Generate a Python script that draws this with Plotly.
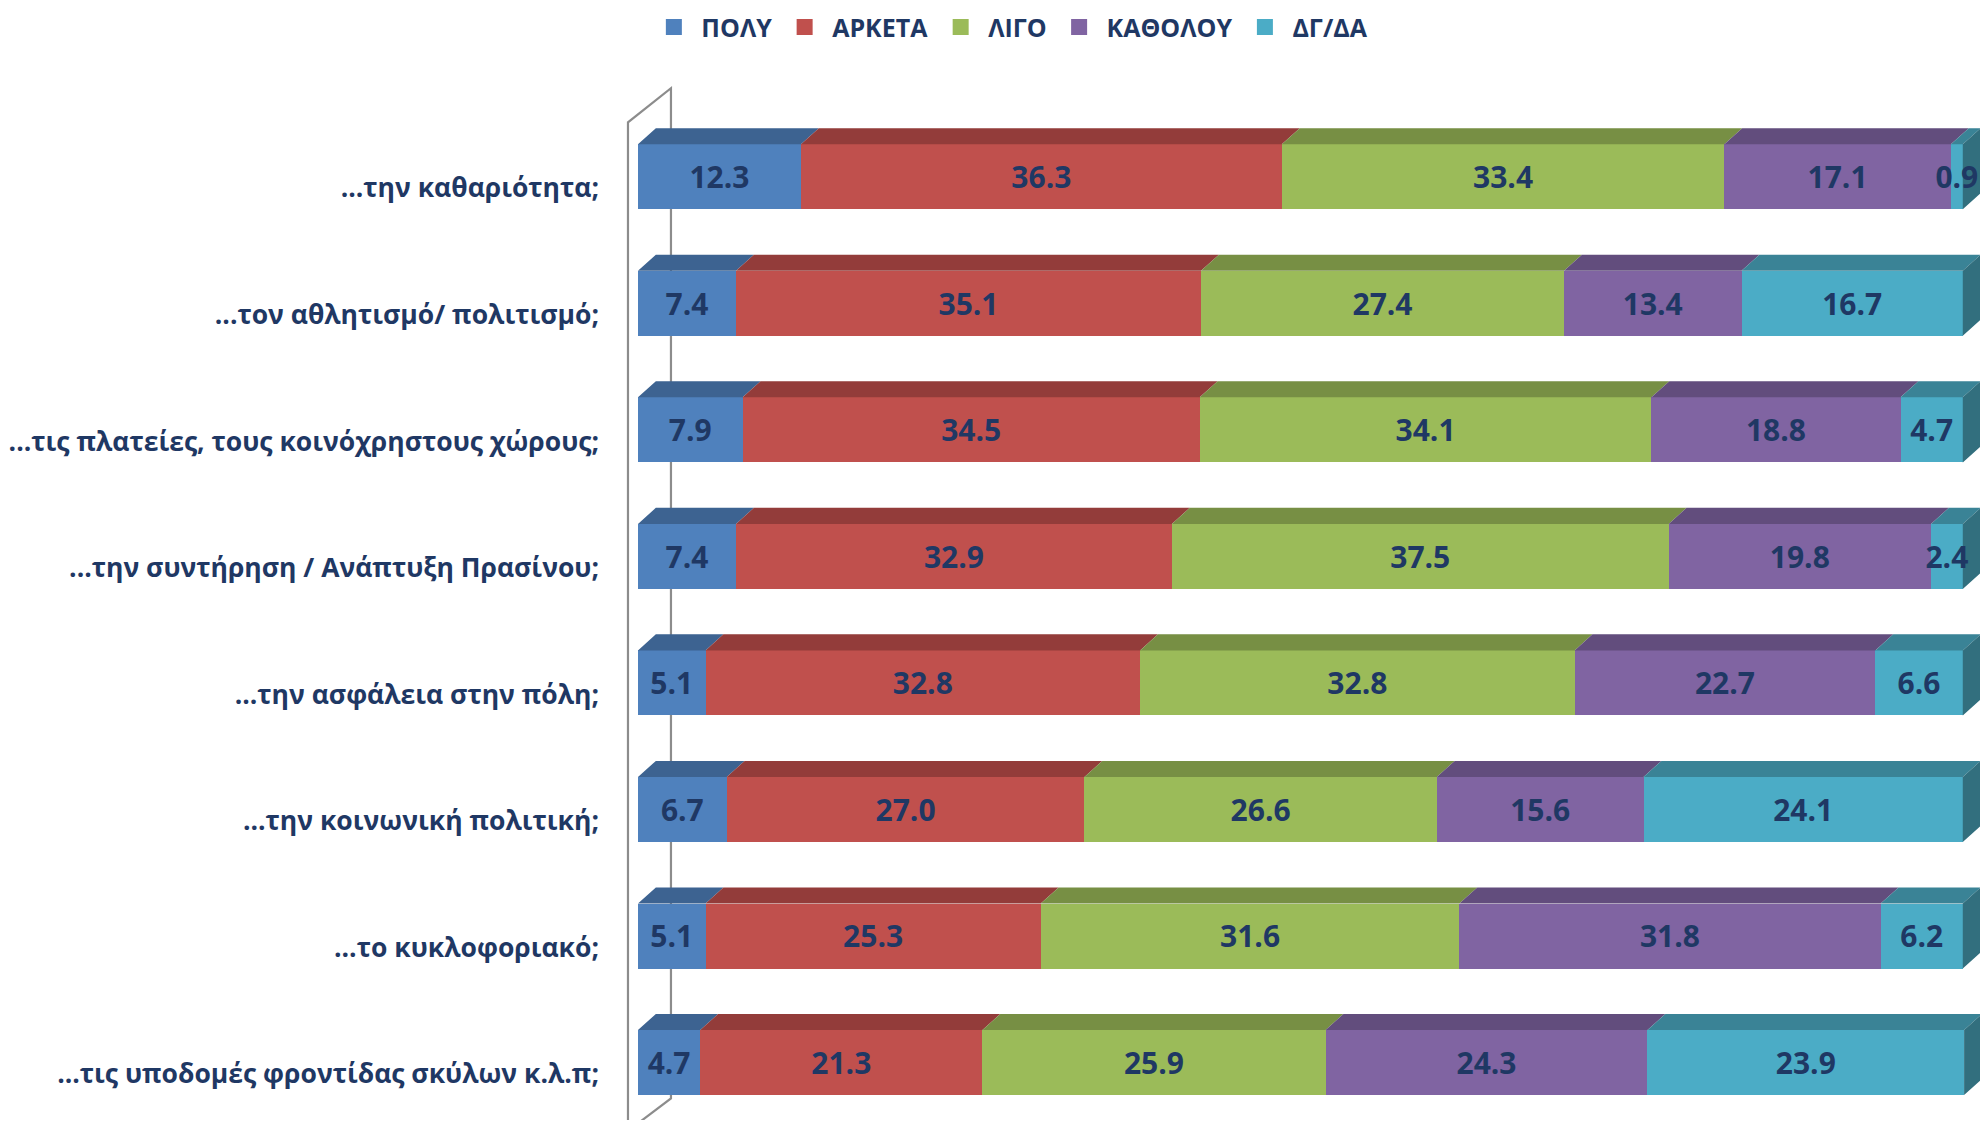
import plotly.graph_objects as go

categories = [
    "...την καθαριότητα;",
    "...τον αθλητισμό/ πολιτισμό;",
    "...τις πλατείες, τους κοινόχρηστους χώρους;",
    "...την συντήρηση / Ανάπτυξη Πρασίνου;",
    "...την ασφάλεια στην πόλη;",
    "...την κοινωνική πολιτική;",
    "...το κυκλοφοριακό;",
    "...τις υποδομές φροντίδας σκύλων κ.λ.π;",
]
series_names = ["ΠΟΛΥ", "ΑΡΚΕΤΑ", "ΛΙΓΟ", "ΚΑΘΟΛΟΥ", "ΔΓ/ΔΑ"]
poly = [12.3, 7.4, 7.9, 7.4, 5.1, 6.7, 5.1, 4.7]
arketa = [36.3, 35.1, 34.5, 32.9, 32.8, 27.0, 25.3, 21.3]
ligo = [33.4, 27.4, 34.1, 37.5, 32.8, 26.6, 31.6, 25.9]
katholou = [17.1, 13.4, 18.8, 19.8, 22.7, 15.6, 31.8, 24.3]
dgda = [0.9, 16.7, 4.7, 2.4, 6.6, 24.1, 6.2, 23.9]
series_values = [poly, arketa, ligo, katholou, dgda]

front_colors = ["#4F81BD", "#C0504D", "#9BBB59", "#8064A2", "#4BACC6"]
top_colors = ["#3D6391", "#933C3A", "#778F44", "#624D7D", "#3A8396"]
side_color = "#326F7E"
navy = "#1F3864"

BAR_W = 0.514      # bar thickness (category units)
DX = 1.35          # 3D depth along x (value units)
DY = 0.127         # 3D depth along y (category units)
TICK_DROP = 0.09   # category labels sit slightly below bar centres
LABEL_DROP = 0.03  # value labels sit slightly below bar centres

ypos = list(range(len(categories)))
fig = go.Figure()

# Wall (3D axis wall) drawn behind everything
wall_front_x, wall_back_x = -0.754, 2.49
wall_top_front, wall_top_back = -0.43, -0.70
wall_bot_back, wall_bot_front = 7.284, 7.54
fig.add_shape(
    type="path", xref="x", yref="y", layer="below",
    path=(f"M {wall_front_x},{wall_bot_front + 0.1} L {wall_front_x},{wall_top_front} "
          f"L {wall_back_x},{wall_top_back} L {wall_back_x},{wall_bot_back} "
          f"L {wall_front_x},{wall_bot_front}"),
    line=dict(color="#8C8C8C", width=2.2),
)

# Front faces
for name, vals, col in zip(series_names, series_values, front_colors):
    fig.add_trace(go.Bar(
        y=ypos, x=vals, name=name, orientation="h", width=BAR_W,
        marker=dict(color=col, line=dict(width=0)),
        hoverinfo="skip", showlegend=False,
    ))

# Legend entries (square markers)
for name, col in zip(series_names, front_colors):
    fig.add_trace(go.Scatter(
        x=[None], y=[None], mode="markers", name=name,
        marker=dict(symbol="square", size=16, color=col),
    ))

# Top faces
cum = [[0.0] * len(categories)]
for vals in series_values:
    cum.append([c + v for c, v in zip(cum[-1], vals)])

for k, (vals, col) in enumerate(zip(series_values, top_colors)):
    xs, ys = [], []
    for i in ypos:
        x0, x1 = cum[k][i], cum[k + 1][i]
        yf = i - BAR_W / 2
        yb = yf - DY
        xs += [x0, x1, x1 + DX, x0 + DX, x0, None]
        ys += [yf, yf, yb, yb, yf, None]
    fig.add_trace(go.Scatter(
        x=xs, y=ys, mode="lines", fill="toself", fillcolor=col,
        line=dict(width=0, color=col), showlegend=False, hoverinfo="skip",
    ))

# Right side faces
xs, ys = [], []
for i in ypos:
    xe = cum[-1][i]
    yf_top = i - BAR_W / 2
    yf_bot = i + BAR_W / 2
    xs += [xe, xe + DX, xe + DX, xe, xe, None]
    ys += [yf_top, yf_top - DY, yf_bot - DY, yf_bot, yf_top, None]
fig.add_trace(go.Scatter(
    x=xs, y=ys, mode="lines", fill="toself", fillcolor=side_color,
    line=dict(width=0, color=side_color), showlegend=False, hoverinfo="skip",
))

# Data labels
lx, ly, lt = [], [], []
for k, vals in enumerate(series_values):
    for i in ypos:
        lx.append(cum[k][i] + vals[i] / 2)
        ly.append(i + LABEL_DROP)
        lt.append(f"{vals[i]:.1f}")
fig.add_trace(go.Scatter(
    x=lx, y=ly, text=lt, mode="text", showlegend=False, hoverinfo="skip",
    textfont=dict(family="Open Sans", size=30, color=navy, weight="bold"),
    cliponaxis=False,
))

fig.update_layout(
    width=1972, height=1112,
    barmode="stack",
    margin=dict(l=592, r=0, t=52, b=0, autoexpand=False),
    paper_bgcolor="white", plot_bgcolor="white",
    showlegend=True,
    legend=dict(
        orientation="h", x=0.297, xanchor="center", y=1.0525, yanchor="top",
        yref="paper", itemwidth=45, bgcolor="rgba(0,0,0,0)",
        font=dict(family="Open Sans", size=25, color=navy, weight="bold"),
        itemclick=False, itemdoubleclick=False, traceorder="normal",
    ),
    xaxis=dict(range=[-2.866, 101.3], visible=False, fixedrange=True),
    yaxis=dict(
        range=[7.454, -0.923], tickvals=[i + TICK_DROP for i in ypos],
        ticktext=categories,
        showgrid=False, zeroline=False, showline=False, ticks="",
        tickfont=dict(family="Open Sans", size=26.5, color=navy, weight="bold"),
        fixedrange=True,
    ),
    hovermode=False,
)

fig.write_html("out.html")
